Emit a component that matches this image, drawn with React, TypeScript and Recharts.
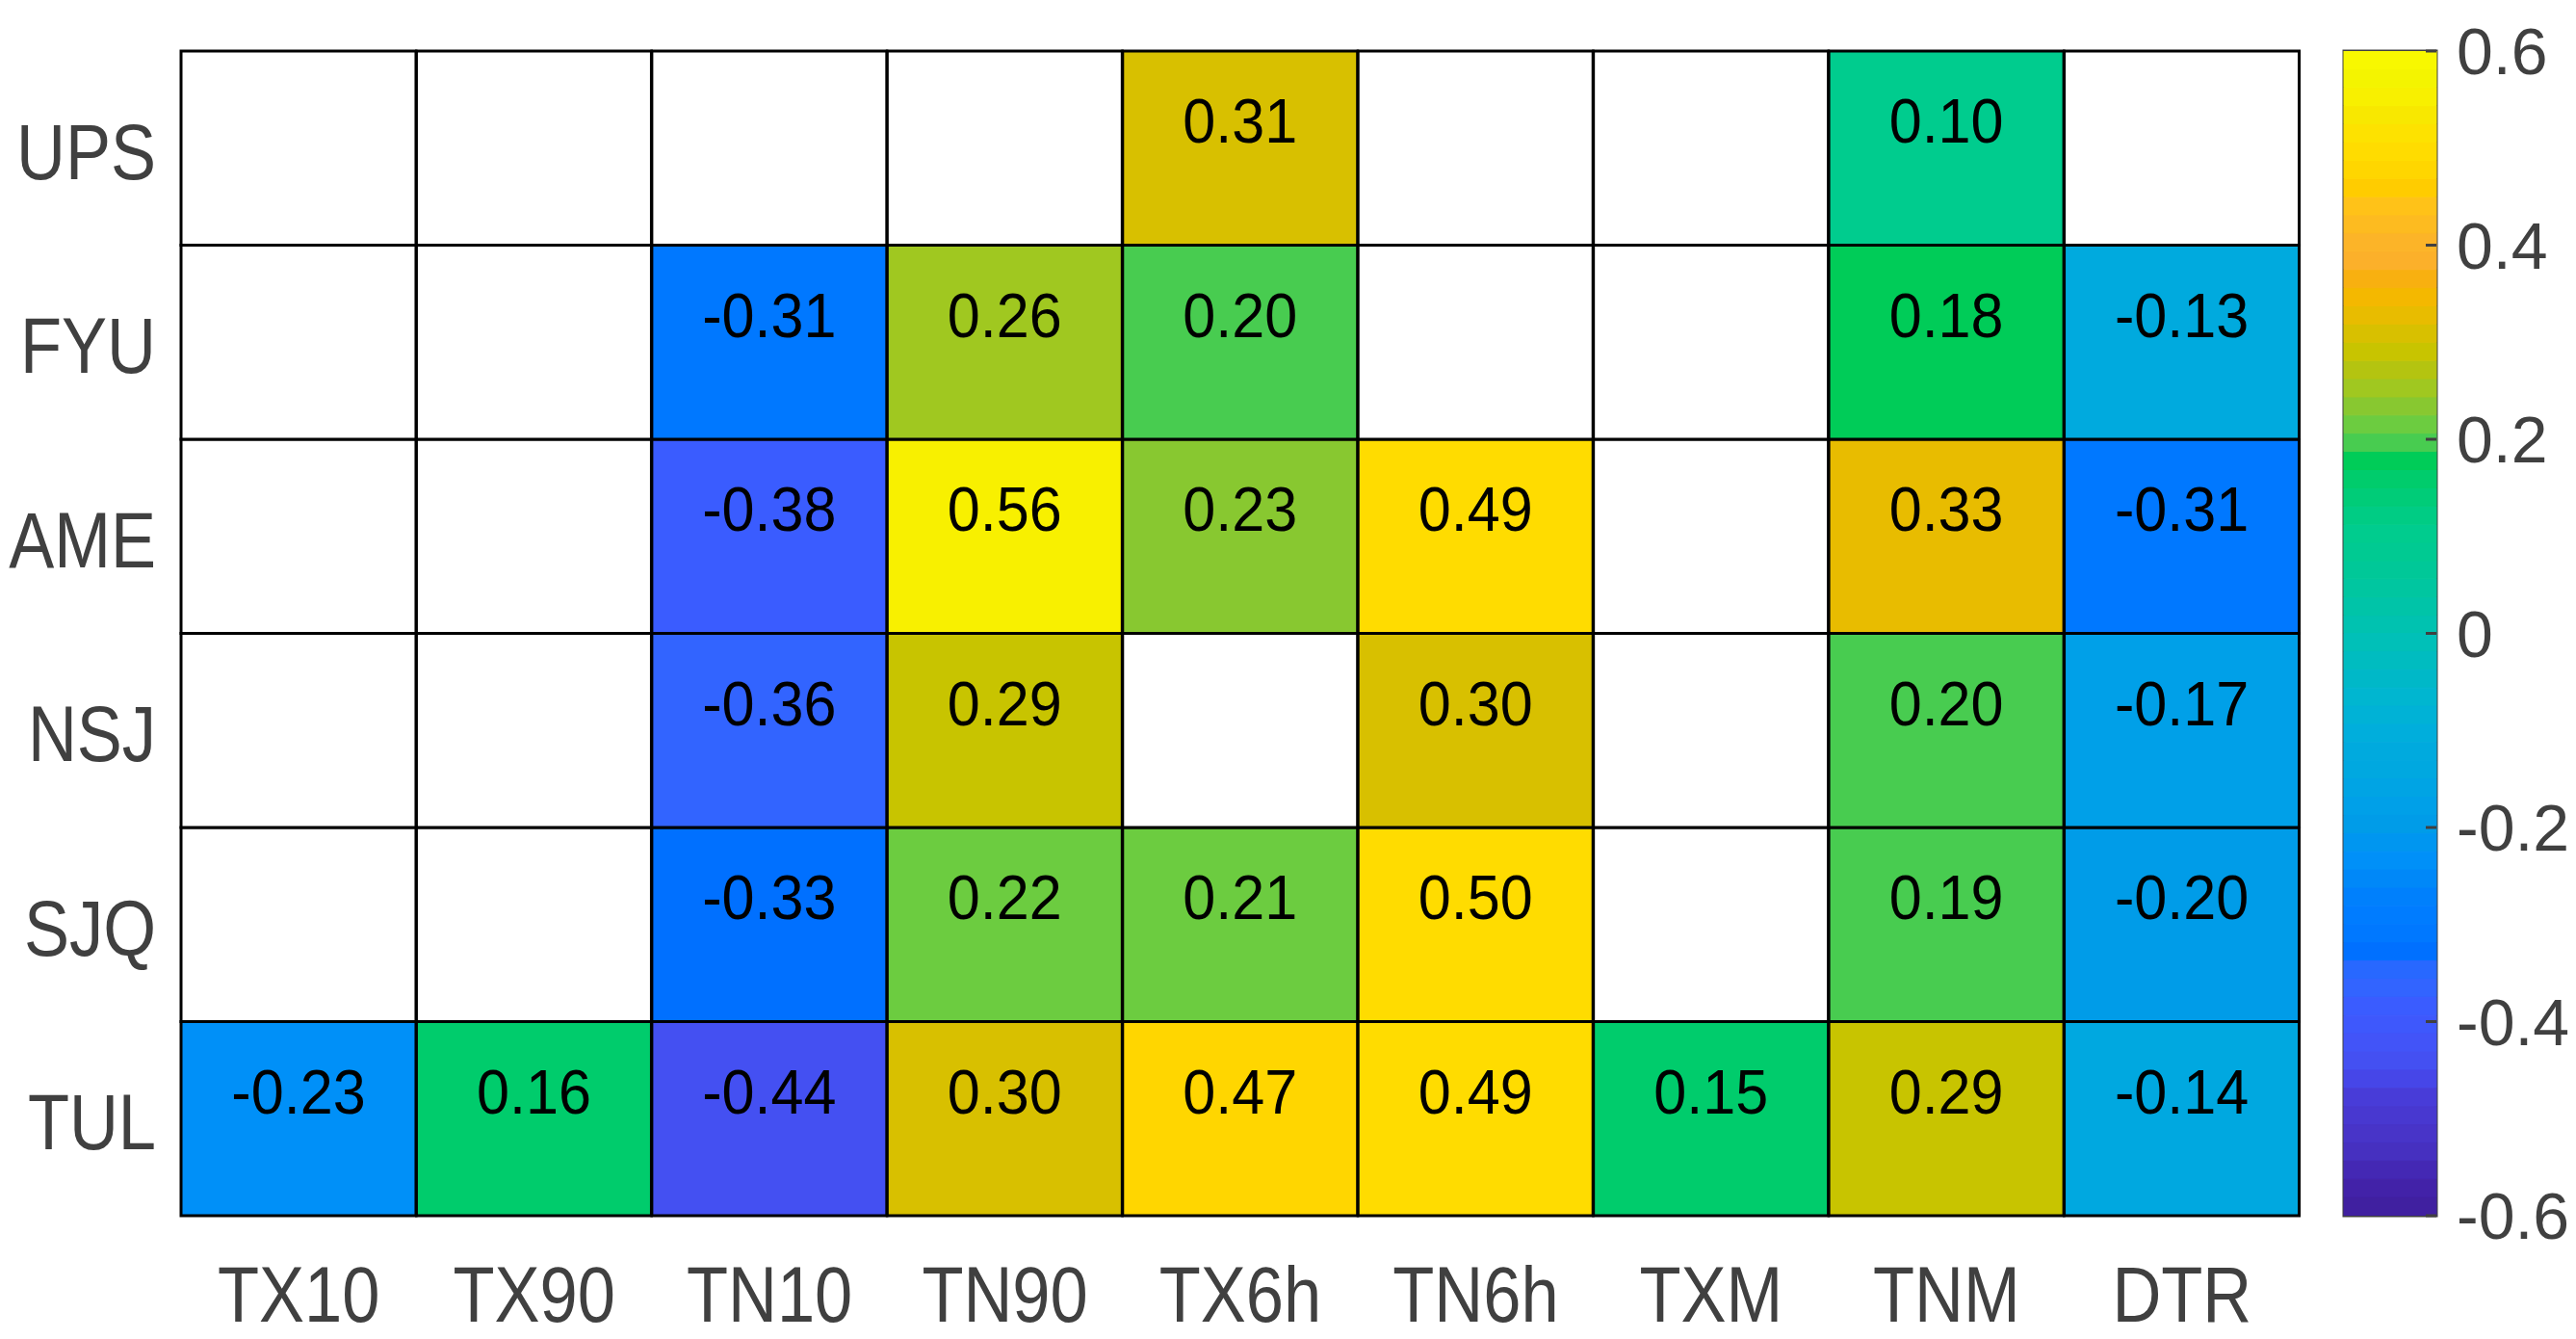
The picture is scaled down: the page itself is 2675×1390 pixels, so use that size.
import React from "react"
import {
  BarChart,
  Bar,
  Cell,
  XAxis,
  YAxis,
  LabelList,
  ReferenceArea,
} from "recharts"

const columns = ["TX10", "TX90", "TN10", "TN90", "TX6h", "TN6h", "TXM", "TNM", "DTR"]
const stations = ["UPS", "FYU", "AME", "NSJ", "SJQ", "TUL"]

const UPS = [null, null, null, null, 0.31, null, null, 0.1, null]
const FYU = [null, null, -0.31, 0.26, 0.2, null, null, 0.18, -0.13]
const AME = [null, null, -0.38, 0.56, 0.23, 0.49, null, 0.33, -0.31]
const NSJ = [null, null, -0.36, 0.29, null, 0.3, null, 0.2, -0.17]
const SJQ = [null, null, -0.33, 0.22, 0.21, 0.5, null, 0.19, -0.2]
const TUL = [-0.23, 0.16, -0.44, 0.3, 0.47, 0.49, 0.15, 0.29, -0.14]

const rowValues: Record<string, (number | null)[]> = { UPS, FYU, AME, NSJ, SJQ, TUL }

const cbTicks = [-0.6, -0.4, -0.2, 0, 0.2, 0.4, 0.6]
const cbMin = -0.6
const cbMax = 0.6

// 64-step colormap, bottom (-0.6) to top (0.6)
const palette = [
  "#4020a0", "#4222a8", "#4428b4", "#4630c0", "#4834c8", "#4838d0", "#483cd8", "#4646e8",
  "#4450f2", "#4254f8", "#3e58fc", "#3a5cff", "#3264ff", "#2868ff", "#0070ff", "#0078ff",
  "#007cff", "#0080fc", "#0088f8", "#0090f8", "#0096f0", "#009ce8", "#00a0e8", "#00a4e4",
  "#00a8e0", "#00aade", "#00aedc", "#00b2d6", "#00b6d0", "#00b8c8", "#00bcc0", "#00c0b8",
  "#00c2b0", "#00c4a8", "#00c6a0", "#00c898", "#00ca92", "#00cc8e", "#00cc84", "#00cc78",
  "#00cc6c", "#00cc58", "#48cc50", "#6ccc40", "#88c830", "#a0c820", "#b4c410", "#c8c400",
  "#d8c000", "#e8bc00", "#f4b800", "#f8b010", "#fcb02a", "#fcb428", "#fdbb20", "#ffc218",
  "#ffcc00", "#ffd600", "#ffdc00", "#fde200", "#f8e800", "#f8f000", "#f4f400", "#f8f800",
]

const colorFor = (v: number | null) => {
  if (v === null) return "#ffffff"
  const n = palette.length
  const i = Math.floor(((v - cbMin) / (cbMax - cbMin)) * n + 1e-9)
  return palette[Math.max(0, Math.min(n - 1, i))]
}

const FONT = "'Liberation Sans', Arial, Helvetica, sans-serif"
const LABEL = "#404040"

// heatmap rows as stacked unit bars, bottom row first
const heatData = columns.map((c) => {
  const d: Record<string, any> = { col: c }
  stations.forEach((s) => (d[s] = 1))
  return d
})
const stackOrder = [...stations].reverse()

// colorbar as +/- stacked bands
const bandSize = (cbMax - cbMin) / palette.length
const half = palette.length / 2
const cbData = [
  palette.reduce((acc: Record<string, any>, _c, i) => {
    acc["b" + i] = i < half ? -bandSize : bandSize
    return acc
  }, { name: "cb" }),
]
const cbOrder = [
  ...palette.map((_c, i) => i).filter((i) => i >= half),
  ...palette.map((_c, i) => i).filter((i) => i < half).reverse(),
]

const makeLabel = (vals: (number | null)[]) => (props: any) => {
  const { x, y, width, index } = props
  const v = vals[index]
  if (v === null || v === undefined) return null
  const cx = Number(x) + Number(width) / 2
  const cy = Number(y) + 95
  return (
    <text
      transform={`translate(${cx},${cy}) scale(0.94,1)`}
      textAnchor="middle"
      fontSize={65}
      fill="#000"
      fontFamily={FONT}
    >
      {v.toFixed(2)}
    </text>
  )
}

const XTick = (props: any) => {
  const { x, y, payload } = props
  return (
    <text
      transform={`translate(${x},${y}) scale(0.87,1)`}
      textAnchor="middle"
      dy="0.71em"
      fontSize={81}
      fill={LABEL}
      fontFamily={FONT}
    >
      {payload.value}
    </text>
  )
}

const YTick = (props: any) => {
  const { x, y, payload } = props
  return (
    <text
      transform={`translate(${x},${y + 3}) scale(0.87,1)`}
      textAnchor="end"
      dy="0.355em"
      fontSize={81}
      fill={LABEL}
      fontFamily={FONT}
    >
      {stations[5 - Math.floor(payload.value)]}
    </text>
  )
}

const CbTick = (props: any) => {
  const { x, y, payload } = props
  const v = payload.value
  return (
    <g>
      <line x1={x - 21} x2={x - 32} y1={y} y2={y} stroke={LABEL} strokeWidth={3} />
      <text x={x} y={y} dy="0.355em" fontSize={68} fill={LABEL} fontFamily={FONT}>
        {v === 0 ? "0" : String(v)}
      </text>
    </g>
  )
}

export default function App() {
  return (
    <div
      style={{
        position: "absolute",
        left: 0,
        top: 0,
        width: 2675,
        height: 1390,
        background: "#fff",
        fontFamily: FONT,
      }}
    >
      <div style={{ position: "absolute", left: 0, top: 0 }}>
        <BarChart
          width={2420}
          height={1390}
          data={heatData}
          margin={{ top: 53, right: 32, left: 0, bottom: 0 }}
          barCategoryGap={0}
        >
          <XAxis
            dataKey="col"
            interval={0}
            tickLine={false}
            axisLine={false}
            tickSize={0}
            tickMargin={52}
            height={128}
            tick={<XTick />}
          />
          <YAxis
            type="number"
            domain={[0, 6]}
            ticks={[0.5, 1.5, 2.5, 3.5, 4.5, 5.5]}
            tickLine={false}
            axisLine={false}
            tickSize={0}
            tickMargin={26}
            width={188}
            tick={<YTick />}
          />
          {stackOrder.map((s) => (
            <Bar key={s} dataKey={s} stackId="grid" isAnimationActive={false}>
              {rowValues[s].map((v, i) => (
                <Cell key={i} fill={colorFor(v)} stroke="#000" strokeWidth={3} />
              ))}
              <LabelList dataKey={s} content={makeLabel(rowValues[s])} />
            </Bar>
          ))}
        </BarChart>
      </div>
      <div style={{ position: "absolute", left: 2420, top: 0 }}>
        <BarChart
          width={255}
          height={1390}
          data={cbData}
          stackOffset="sign"
          margin={{ top: 53, right: 0, left: 14, bottom: 128 }}
          barCategoryGap={0}
        >
          <XAxis dataKey="name" hide />
          <YAxis
            orientation="right"
            type="number"
            domain={[cbMin, cbMax]}
            ticks={cbTicks}
            allowDataOverflow
            tickLine={false}
            axisLine={false}
            tickSize={0}
            tickMargin={21}
            width={145}
            tick={<CbTick />}
          />
          {cbOrder.map((i) => (
            <Bar
              key={i}
              dataKey={"b" + i}
              stackId="cb"
              fill={palette[i]}
              stroke={palette[i]}
              strokeWidth={1}
              isAnimationActive={false}
            />
          ))}
          <ReferenceArea
            y1={cbMin}
            y2={cbMax}
            fill="none"
            stroke={LABEL}
            strokeWidth={3}
            fillOpacity={0}
          />
        </BarChart>
      </div>
    </div>
  )
}
